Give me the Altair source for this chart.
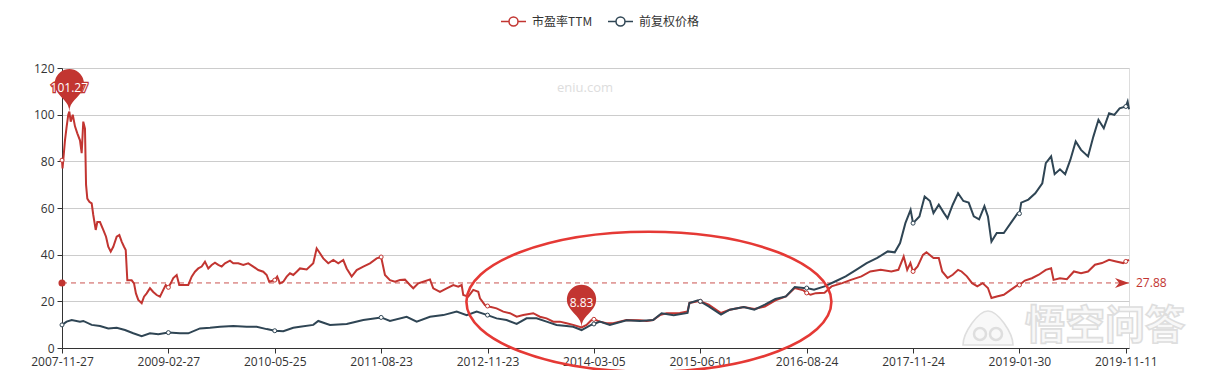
import altair as alt
import pandas as pd

# ---------------- data ----------------
TICK_LABELS = ["2007-11-27", "2009-02-27", "2010-05-25", "2011-08-23", "2012-11-23",
               "2014-03-05", "2015-06-01", "2016-08-24", "2017-11-24", "2019-01-30",
               "2019-11-11"]
TICK_STEP = 100
LAST_IDX = 1003

PE_NAME = "市盈率TTM"
PX_NAME = "前复权价格"

PE_IDX = [0, 0.5, 2.8, 4.4, 5.9, 6.9, 8.2, 10.1, 12.2, 14.4, 16.9, 18.5, 20, 21.6, 22.6, 23.8,
          25.7, 27.9, 29.4, 31.7, 33.2, 35.7, 38.8, 41.4, 43.5, 45.8, 48.2, 51.4, 53.9, 56.1,
          58.3, 59.9, 61.4, 63.3, 65.5, 67.7, 69.5, 71.7, 74.9, 77.1, 79.6, 82.7, 85.8, 89,
          92.1, 95.2, 97.5, 100, 102.2, 104.6, 107.8, 110.2, 114, 118.7, 121.9, 125, 128.1,
          131.3, 134.4, 137.5, 140.7, 143.8, 146.9, 150.1, 153.2, 157.9, 161, 165.7, 170.4,
          175.1, 179.8, 184.5, 189.2, 192.4, 194.8, 200, 202.3, 204.9, 208, 211.2, 214.3,
          217.4, 220.6, 223.7, 230, 236.2, 239.4, 242.5, 245.6, 250.3, 255, 259.7, 264.4,
          267.6, 272.3, 277, 283.2, 289.5, 295.8, 300, 303.6, 308.3, 313, 317.7, 322.4,
          327.1, 330.2, 334.9, 339.6, 345.9, 349, 355.3, 361.6, 367.8, 372.5, 375.7, 377.2,
          381.9, 386.6, 391.3, 392.9, 397.6, 400, 402.3, 408.5, 414.8, 421.1, 427.4, 433.6,
          443, 449.2, 455.5, 461.8, 468, 474.3, 480.5, 488.4, 493.1, 497.8, 500, 505.6,
          511.9, 518.1, 530.7, 543.2, 549.5, 555.7, 562, 568.3, 574.9, 580.8, 588, 589.8,
          597.9, 600, 607.9, 619.5, 627.7, 640.9, 650.8, 660.7, 670.6, 680.5, 688.8, 697,
          700, 703.7, 708.6, 716.8, 723.4, 733.4, 741.6, 751.5, 759.8, 769.6, 779.6, 786.2,
          791.2, 794.5, 797.5, 800, 804.3, 809.3, 812.6, 819.2, 824.2, 827.4, 832.4, 837.3,
          842.3, 845.6, 850.6, 855.5, 860.4, 865.4, 870.4, 873.7, 878.7, 885.3, 891.8,
          898.4, 900, 905.1, 911.7, 918.2, 924.8, 929.8, 932.1, 938.1, 944.6, 951.2, 957.9,
          964.5, 971, 977.6, 984.3, 990.9, 997.5, 1000, 1003]
PE_VAL = [80.5, 77, 89, 95, 100, 101.27, 97, 100, 95, 92, 89, 83.5, 97, 94, 70, 64,
          62.7, 62, 57, 50.6, 54, 54, 50.6, 47.7, 43.4, 41.3, 43.4, 47.7, 48.4, 45.6,
          43.4, 42, 29, 29, 29, 27.7, 23.4, 20.6, 19.2, 22, 23.4, 25.6, 24, 22.7,
          22, 24.9, 27, 26, 27.7, 30, 31.3, 27, 27, 27, 30.6, 32.7, 34.1,
          34.9, 37, 34.1, 35.6, 36.6, 35.6, 34.9, 36.3, 37.4, 36.3, 36.3, 35.6,
          36.3, 34.9, 33.4, 32.7, 31.3, 28.4, 29.1, 30.6, 27.7, 28.4, 30.6, 32,
          31.3, 32.7, 34.1, 33.7, 36.3, 42.7, 40.6, 38.4, 36.3, 37.7, 36.3, 37.7,
          34.1, 30.6, 33.4, 34.9, 36.3, 38.4, 39, 31.3, 29.1, 28.4, 29.1, 29.3,
          27, 25.6, 27.7, 28.4, 29.4, 25.6, 24.1, 25.6, 27, 26.3, 27, 22.7,
          22, 24.9, 24.1, 21.3, 18.4, 18, 17.7, 17, 15.6, 14.9, 13.4, 14.1,
          14.9, 13.4, 12.7, 11.3, 11.3, 10.6, 9.9, 8.83, 9.9, 12, 12.3, 11.3,
          10.6, 10.6, 12, 11.9, 11.6, 12, 14.1, 14.9, 14.9, 15, 15.7, 19.3,
          20, 20, 18.6, 15, 16.4, 17.6, 16.7, 17.8, 20.4, 22.1, 25.7, 24.7,
          23.6, 22.8, 23.5, 23.7, 26.4, 27.8, 29.2, 30.7, 32.8, 33.5, 32.8, 33.5,
          39.2, 33.5, 36.4, 32.8, 35, 39.9, 41, 38.6, 38.6, 32.8, 30, 31.4,
          33.5, 32.8, 30.7, 27.8, 26.4, 27.8, 25.7, 21.4, 22.1, 22.8, 24.9,
          27, 27, 28.9, 29.9, 31.4, 33.5, 34.2, 29.2, 29.9, 29.5, 32.8, 32.1,
          32.8, 35.7, 36.4, 37.8, 37.1, 36.4, 37.1, 37.8]

PX_IDX = [0, 4.4, 9.1, 16.9, 20, 27.9, 35.7, 43.5, 51.4, 59.2, 67, 74.9, 82.7, 90.5, 100,
          110.9, 118.7, 129.7, 139.1, 148.5, 161, 173.6, 183, 192.4, 200, 208, 217.4, 223.7,
          236.2, 240.9, 251.9, 267.6, 283.2, 300, 308.3, 324, 333.4, 345.9, 358.4, 371,
          380.4, 389.8, 400, 408.5, 417.9, 427.4, 436.7, 446.1, 455.5, 464.9, 474.3, 480.5,
          488.4, 497.8, 500, 505.6, 515, 530.7, 543.2, 555.7, 563.6, 575, 588, 589.8, 597.9,
          600, 607.9, 619.5, 627.7, 640.9, 650.8, 660.7, 670.6, 680.5, 688.8, 697, 700,
          706.9, 716.8, 726.7, 736.7, 746.5, 756.4, 766.4, 776.2, 782.8, 787.8, 792.8,
          797.7, 800, 806, 810.9, 815.9, 819.2, 824.2, 829.1, 832.4, 837.3, 842.3, 847.3,
          852.3, 857.1, 862.1, 867.1, 870.4, 873.7, 878.7, 885.3, 891.8, 898.4, 900, 901.7,
          908.4, 914.9, 921.5, 924.8, 929.8, 933.1, 938.1, 943, 947.9, 952.9, 957.9, 964.5,
          969.5, 974.3, 979.3, 984.3, 989.2, 994.2, 1000, 1001.7, 1003]
PX_VAL = [9.9, 11.3, 12, 11.3, 11.6, 9.9, 9.4, 8.4, 8.7, 7.7, 6.3, 5.1, 6.3, 5.9, 6.6,
          6.3, 6.3, 8.4, 8.7, 9.1, 9.4, 9.1, 9.1, 8.1, 7.4, 7.2, 8.7, 9.1,
          9.9, 11.6, 9.9, 10.3, 12, 13.1, 11.6, 13.4, 11.3, 13.4, 14.1, 15.6,
          14.1, 15.6, 14.1, 12.7, 12, 10.3, 12.7, 12.7, 11.3, 9.9, 9.4, 9.1,
          7.7, 10, 10.3, 11.3, 9.9, 11.9, 11.6, 12, 14.9, 14, 15, 19.3, 20.4,
          20, 17.8, 14.3, 16.4, 17.6, 16.4, 18.6, 21, 22.1, 26.1, 25.7, 25.7,
          25, 26.4, 28.5, 30.7, 33.5, 36.4, 38.6, 41.4, 41, 45, 53.5,
          59.2, 53.5, 56.4, 64.9, 63, 57.8, 61.4, 57.8, 55.6, 61.4, 66.3, 63,
          62.3, 56.4, 55.1, 60.8, 56.4, 45.6, 49.3, 49.3, 53.5, 57.8, 57.6, 62.3,
          63.6, 66.3, 70.6, 79.2, 82.1, 74.5, 76.6, 74.5, 80.7, 88.5, 84.9, 82.1,
          90.6, 97.8, 94.2, 100.6, 99.9, 102.7, 103.5, 105.6, 102.3]

PE_MAX_IDX, PE_MAX = 6.9, 101.27
PE_MIN_IDX, PE_MIN = 488.4, 8.83
PE_AVG = 27.88
ELLIPSE_IDX, ELLIPSE_VAL = 551.7, 19.8

RED = "#c23531"
DARK = "#2f4554"

# ---------------- frames ----------------
pe_df = pd.DataFrame({"idx": PE_IDX, "value": PE_VAL, "series": PE_NAME})
px_df = pd.DataFrame({"idx": PX_IDX, "value": PX_VAL, "series": PX_NAME})
both = pd.concat([pe_df, px_df], ignore_index=True)
ticks_df = both[(both["idx"] % TICK_STEP == 0)]
pins_df = pd.DataFrame({"idx": [PE_MAX_IDX, PE_MIN_IDX], "value": [PE_MAX, PE_MIN],
                        "label": [f"{PE_MAX:.2f}", f"{PE_MIN:.2f}"]})
avg_df = pd.DataFrame({"value": [PE_AVG]})
avg_start = pd.DataFrame({"idx": [0], "value": [PE_AVG]})
avg_end = pd.DataFrame({"idx": [LAST_IDX], "value": [PE_AVG], "label": [f"{PE_AVG:.2f}"]})
ell_df = pd.DataFrame({"idx": [ELLIPSE_IDX], "value": [ELLIPSE_VAL]})

label_expr = "[" + ",".join(f"'{t}'" for t in TICK_LABELS) + "][round(datum.value / %d)]" % TICK_STEP

X_ENC = alt.X("idx:Q",
              scale=alt.Scale(domain=[0, LAST_IDX], nice=False, zero=False),
              axis=alt.Axis(values=list(range(0, TICK_STEP * (len(TICK_LABELS) - 1) + 1, TICK_STEP)),
                            labelExpr=label_expr, grid=False, title=None,
                            domainColor="#333", tickColor="#333", tickSize=5,
                            labelPadding=3, labelColor="#333", labelFontSize=12,
                            labelFont="Open Sans", labelFlush=False, labelOverlap=False))
Y_ENC = alt.Y("value:Q",
              scale=alt.Scale(domain=[0, 120], nice=False),
              axis=alt.Axis(values=[0, 20, 40, 60, 80, 100, 120], grid=True, gridColor="#cccccc",
                            title=None, domainColor="#333", tickColor="#333", tickSize=5,
                            labelPadding=3, labelColor="#333", labelFontSize=12,
                            labelFont="Open Sans"))

COLOR_SCALE = alt.Scale(domain=[PE_NAME, PX_NAME], range=[RED, DARK])

LEGEND_SYMBOL = ("M-1,0L-0.36,0M0.36,0L1,0M0.36,0A0.36,0.36,0,1,1,-0.36,0"
                 "A0.36,0.36,0,1,1,0.36,0")
PIN_PATH = ("M-0.6,-0.985A0.665,0.665,0,1,1,0.6,-0.985"
            "C0.428,-0.625,0,-0.465,0,0C0,-0.465,-0.428,-0.625,-0.6,-0.985Z")
ARROW_PATH = "M0,0L-1,-0.36L-0.7,0L-1,0.36Z"
ELLIPSE_PATH = "M-1,0A1,0.3836,0,1,1,1,0A1,0.3836,0,1,1,-1,0Z"
LOGO_BODY = "M-1,0.68C-1,0.2,-0.4,-0.68,0,-0.68C0.4,-0.68,1,0.2,1,0.68Z"
LOGO_EYES = ("M-0.08,0.24A0.24,0.24,0,1,1,-0.56,0.24A0.24,0.24,0,1,1,-0.08,0.24"
             "M0.56,0.24A0.24,0.24,0,1,1,0.08,0.24A0.24,0.24,0,1,1,0.56,0.24")

legend = alt.Legend(orient="none", legendX=438, legendY=-60, direction="horizontal",
                    title=None, symbolType=LEGEND_SYMBOL, symbolSize=625,
                    symbolStrokeWidth=1.5, symbolFillColor="white",
                    labelFont="Noto Sans CJK SC", labelFontSize=12, labelColor="#333",
                    labelOffset=5, columnPadding=12, padding=0)

# ---------------- layers ----------------
wm_df = pd.DataFrame({"t": ["eniu.com"]})
wm1 = alt.Chart(wm_df).mark_text(fontSize=13, color="#dddddd", font="Open Sans").encode(
    text="t:N", x=alt.value(523), y=alt.value(20))
wk_df = pd.DataFrame({"t": ["悟空问答"]})
wm2 = alt.Chart(wk_df).mark_text(fontSize=40, fill="#f8f8f8", stroke="#dedede", strokeWidth=1.6,
                                 fontWeight="bold", font="Noto Sans CJK SC").encode(
    text="t:N", x=alt.value(1043), y=alt.value(259))
logo1 = alt.Chart(wk_df).mark_point(shape=LOGO_BODY, size=2500, filled=True, fill="#f8f8f8",
                                    stroke="#dedede", strokeWidth=1.6, opacity=1).encode(
    x=alt.value(926), y=alt.value(260))
logo2 = alt.Chart(wk_df).mark_point(shape=LOGO_EYES, size=2500, filled=False, color="#dedede",
                                    strokeWidth=2.5, opacity=1).encode(
    x=alt.value(926), y=alt.value(260))

avg_rule = alt.Chart(avg_df).mark_rule(color=RED, strokeDash=[5, 4], strokeWidth=1,
                                       opacity=0.85).encode(y=Y_ENC)

pe_line = alt.Chart(pe_df).mark_line(strokeWidth=2).encode(
    x=X_ENC, y=Y_ENC, color=alt.Color("series:N", scale=COLOR_SCALE, legend=legend))
px_line = alt.Chart(px_df).mark_line(strokeWidth=2).encode(
    x=X_ENC, y=Y_ENC, color=alt.Color("series:N", scale=COLOR_SCALE, legend=legend))

tick_pts = alt.Chart(ticks_df).mark_point(filled=True, fill="white", size=16, strokeWidth=1,
                                          opacity=1).encode(
    x=X_ENC, y=Y_ENC, stroke=alt.Stroke("series:N", scale=COLOR_SCALE, legend=None))

avg_dot = alt.Chart(avg_start).mark_point(filled=True, size=50, color=RED, opacity=1).encode(
    x=X_ENC, y=Y_ENC)
avg_arrow = alt.Chart(avg_end).mark_point(shape=ARROW_PATH, filled=True, size=784, color=RED,
                                          opacity=1).encode(x=X_ENC, y=Y_ENC)
avg_label = alt.Chart(avg_end).mark_text(align="left", dx=7, fontSize=12, color=RED,
                                         font="Open Sans").encode(x=X_ENC, y=Y_ENC, text="label:N")

pins = alt.Chart(pins_df).mark_point(shape=PIN_PATH, filled=True, size=1936, color=RED,
                                     opacity=1).encode(x=X_ENC, y=Y_ENC)
pin_outline = alt.Chart(pins_df).mark_text(dy=-24, fontSize=12, fill=RED, stroke=RED,
                                           strokeWidth=2.5, font="Open Sans").encode(
    x=X_ENC, y=Y_ENC, text="label:N")
pin_labels = alt.Chart(pins_df).mark_text(dy=-24, fontSize=12, color="white",
                                          font="Open Sans").encode(x=X_ENC, y=Y_ENC, text="label:N")

ellipse = alt.Chart(ell_df).mark_point(shape=ELLIPSE_PATH, filled=False, size=133225,
                                       color="#e53935", strokeWidth=2.6, opacity=1).encode(
    x=X_ENC, y=Y_ENC)

chart = alt.layer(wm1, wm2, logo1, logo2, avg_rule, pe_line, px_line, tick_pts, avg_dot,
                  avg_arrow, avg_label, pins, pin_outline, pin_labels, ellipse).properties(
    width=1067, height=280,
    autosize=alt.AutoSizeParams(type="none"),
    padding={"left": 54, "top": 60, "right": 73, "bottom": 22},
).configure_view(stroke=None).configure(font="Open Sans")

chart.save("out.html", embed_options={"renderer": "svg", "actions": False})
